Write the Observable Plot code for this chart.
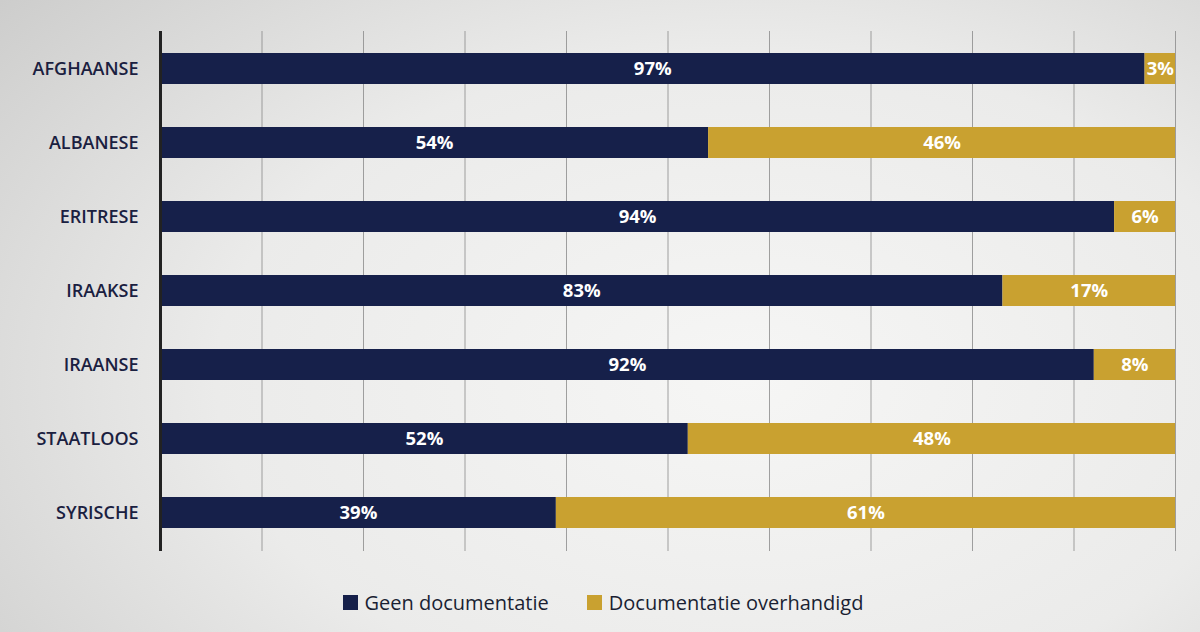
<!DOCTYPE html>
<html><head><meta charset="utf-8">
<script src="https://cdn.jsdelivr.net/npm/d3@7"></script>
<script src="https://cdn.jsdelivr.net/npm/@observablehq/plot@0.6"></script>
<style>
html,body{margin:0;padding:0;}
body{width:1200px;height:632px;overflow:hidden;font-family:"Open Sans",sans-serif;
background:radial-gradient(ellipse 80% 95% at 62% 60%, #f6f6f5 0%, #ebebea 55%, #cdcdcc 100%);}
#chart svg{display:block;background:transparent;}
#legend{display:flex;justify-content:center;align-items:center;margin-top:28px;font-size:20px;color:#1a1f33;padding-left:6px;}
.item{display:flex;align-items:center;margin:0 19px;}
.sw{width:15px;height:15px;margin-right:7px;}
</style></head>
<body>
<div id="chart"></div>
<div id="legend"></div>
<script>
const categories = ["AFGHAANSE","ALBANESE","ERITRESE","IRAAKSE","IRAANSE","STAATLOOS","SYRISCHE"];
const geenDocumentatie = [97,54,94,83,92,52,39];
const documentatieOverhandigd = [3,46,6,17,8,48,61];
const seriesNames = ["Geen documentatie","Documentatie overhandigd"];
const seriesColors = ["#16204a","#c9a130"];
const gridTicks = d3.range(0, 101, 10);

const rows = [];
categories.forEach((c,i)=>{
  rows.push({cat:c, series:seriesNames[0], value:geenDocumentatie[i]});
  rows.push({cat:c, series:seriesNames[1], value:documentatieOverhandigd[i]});
});

const plot = Plot.plot({
  width:1200, height:561,
  marginLeft:160, marginRight:25, marginTop:31, marginBottom:10,
  style:{background:"transparent", fontFamily:"Open Sans, sans-serif"},
  x:{domain:[0,100], axis:null},
  y:{domain:categories, paddingInner:0.58, paddingOuter:0.3, axis:null},
  color:{domain:seriesNames, range:seriesColors},
  marks:[
    Plot.ruleX(gridTicks.filter(t=>t>0), {stroke:"#8a8a8a", strokeWidth:1, strokeOpacity:0.8}),
    Plot.barX(rows, Plot.stackX({x:"value", y:"cat", fill:"series", order:seriesNames})),
    Plot.text(rows, Plot.stackX({x:"value", y:"cat", z:"series", order:seriesNames, text:d=>d.value+"%", fill:"white", fontWeight:"bold", fontSize:18.5})),
    Plot.ruleX([0], {stroke:"#222", strokeWidth:3}),
    Plot.axisY({tickSize:0, tickPadding:22, fontSize:18, fontWeight:600, fill:"#1a2040", label:null})
  ]
});
document.getElementById("chart").appendChild(plot);

const lg = document.getElementById("legend");
seriesNames.forEach((n,i)=>{
  const it = document.createElement("div"); it.className="item";
  const sw = document.createElement("div"); sw.className="sw"; sw.style.background=seriesColors[i];
  const tx = document.createElement("span"); tx.textContent=n;
  it.appendChild(sw); it.appendChild(tx); lg.appendChild(it);
});
</script>
</body></html>
